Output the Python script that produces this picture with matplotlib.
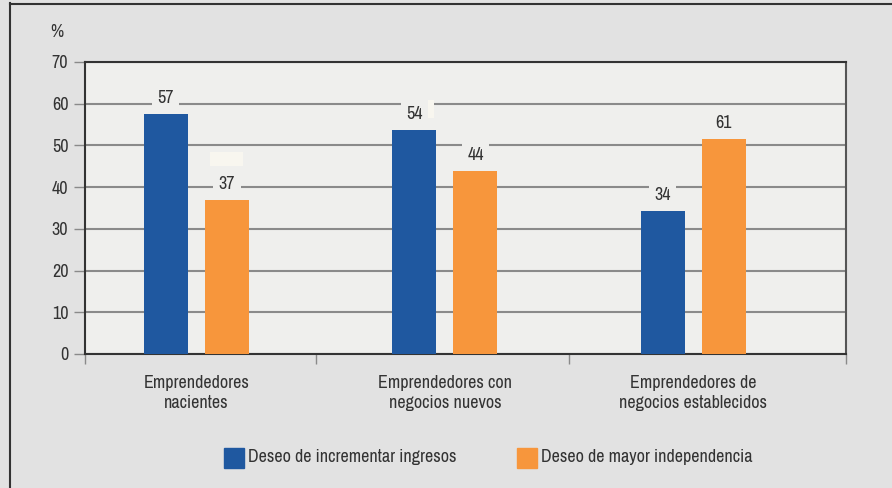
import numpy as np
import matplotlib
matplotlib.use("Agg")
from matplotlib import pyplot as plt
from matplotlib import font_manager
from matplotlib.lines import Line2D
from matplotlib.patches import Rectangle

categorias = ["Emprendedores\nnacientes",
              "Emprendedores con\nnegocios nuevos",
              "Emprendedores de\nnegocios establecidos"]
ingresos = [57.5, 53.7, 34.3]
independencia = [36.8, 43.9, 51.5]
etiquetas_ingresos = ["57", "54", "34"]
etiquetas_indep = ["37", "44", "61"]
serie_nombres = ["Deseo de incrementar ingresos", "Deseo de mayor independencia"]
yticks = [0, 10, 20, 30, 40, 50, 60, 70]

azul = "#1f58a0"
naranja = "#f7963c"
fondo = "#e2e2e2"
fondo_plot = "#efefed"
texto = "#333333"

# fuente estrecha si hay alguna
nombres = sorted(set(f.name for f in font_manager.fontManager.ttflist))
estrechas = [n for n in nombres if "Narrow" in n or "Condensed" in n]
if estrechas:
    fam = [estrechas[0], 'DejaVu Sans']
    fs = 13
else:
    fam = ['Roboto', 'DejaVu Sans']
    fs = 11.5
plt.rcParams['font.family'] = fam

fig = plt.figure(figsize=(8.92, 4.88), dpi=100, facecolor=fondo)
ax = fig.add_axes([0.0953, 0.2746, 0.8531, 0.5984])
ax.set_facecolor(fondo_plot)

x = np.arange(len(categorias))
w = 0.177
off = 0.123
b1 = ax.bar(x - off, ingresos, w, color=azul, zorder=3)
b2 = ax.bar(x + off, independencia, w, color=naranja, zorder=3)

# cajas sueltas del original
ax.add_patch(Rectangle((x[0] + off - 0.07, 45.1), 0.135, 3.3, color="#f8f6ef", zorder=2, lw=0))
ax.add_patch(Rectangle((x[1] - off - 0.05, 56.6), 0.13, 4.3, color="#f8f6ef", zorder=2, lw=0))

for xs, vals, labs in [(x - off, ingresos, etiquetas_ingresos), (x + off, independencia, etiquetas_indep)]:
    for xi, v, l in zip(xs, vals, labs):
        ax.annotate(l, (xi, v), xytext=(0, 6), textcoords="offset points",
                    ha="center", va="bottom", fontsize=fs, color=texto, zorder=2.5,
                    bbox=dict(boxstyle="square,pad=0.3", fc=fondo_plot, ec="none"))

ax.set_ylim(0, 70)
ax.set_xlim(-0.448, 2.614)
ax.set_yticks(yticks)
ax.set_yticklabels([str(t) for t in yticks], fontsize=fs, color=texto)
ax.yaxis.grid(True, color="#8a8a8a", lw=1.5, zorder=1)
ax.set_axisbelow(True)
ax.tick_params(axis="y", length=8, width=1, color="#8a8a8a", pad=4)

ax.set_xticks(x)
ax.set_xticklabels(categorias, fontsize=fs, color=texto, linespacing=1.3)
ax.set_xticks([-0.448, 0.48, 1.50, 2.614], minor=True)
ax.tick_params(axis="x", which="major", length=0, pad=15)
ax.tick_params(axis="x", which="minor", length=7, width=1, color="#8a8a8a")

for s in ["left", "bottom", "top"]:
    ax.spines[s].set_color("#333333")
    ax.spines[s].set_linewidth(1.5)
ax.spines["right"].set_color("#555555")
ax.spines["right"].set_linewidth(1.5)

fig.text(57 / 892, 1 - 32 / 488, "%", fontsize=fs, color=texto, ha="center", va="center")

# leyenda
fig.patches.append(Rectangle((224 / 892, 1 - 468 / 488), 20 / 892, 20 / 488,
                             transform=fig.transFigure, color=azul))
fig.text(248 / 892, 1 - 457 / 488, serie_nombres[0], fontsize=fs, color=texto, va="center")
fig.patches.append(Rectangle((517 / 892, 1 - 468 / 488), 20 / 892, 20 / 488,
                             transform=fig.transFigure, color=naranja))
fig.text(541 / 892, 1 - 457 / 488, serie_nombres[1], fontsize=fs, color=texto, va="center")

# marco exterior
fig.lines.append(Line2D([9.5 / 892, 9.5 / 892], [0, 1 - 3 / 488], transform=fig.transFigure, color="#333333", lw=1.5))
fig.lines.append(Line2D([9.5 / 892, 1], [1 - 3.5 / 488, 1 - 3.5 / 488], transform=fig.transFigure, color="#333333", lw=1.5))

fig.savefig("out.png", dpi=100, facecolor=fondo)
